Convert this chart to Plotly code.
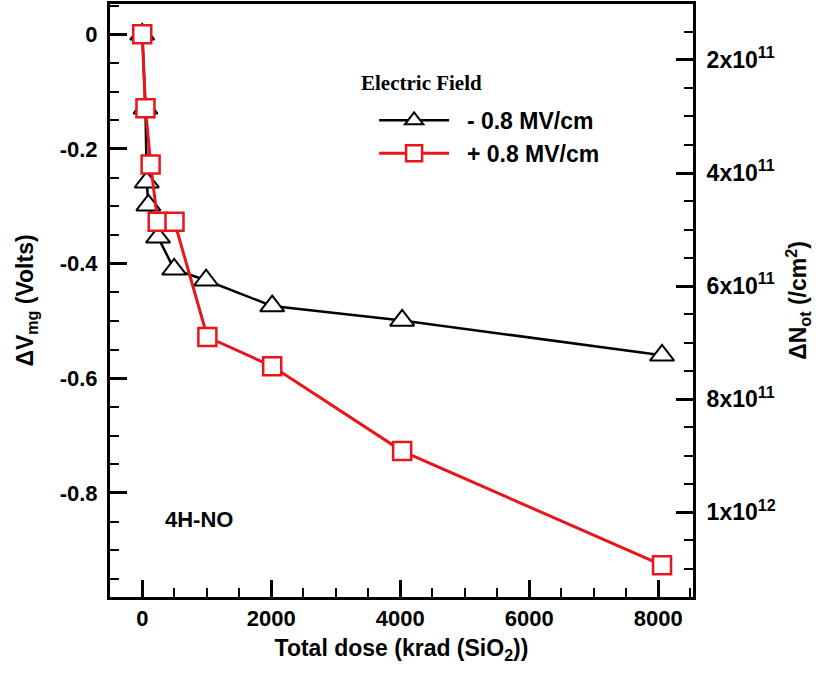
import plotly.graph_objects as go

# Data
dose_neg = [0, 50, 70, 95, 245, 495, 990, 2015, 4030, 8060]
dvmg_neg = [0.0, -0.129, -0.258, -0.298, -0.354, -0.41, -0.429, -0.474, -0.499, -0.56]

dose_pos = [0, 50, 130, 240, 500, 1010, 2015, 4030, 8060]
dvmg_pos = [0.0, -0.129, -0.227, -0.327, -0.327, -0.528, -0.579, -0.727, -0.926]

series_names = ["\u00a0\u00a0<b>- 0.8 MV/cm</b>", "\u00a0\u00a0<b>+ 0.8 MV/cm</b>"]
vmg_tickvals = [0, -0.2, -0.4, -0.6, -0.8]
vmg_ticktext = ["<b>0</b>", "<b>-0.2</b>", "<b>-0.4</b>", "<b>-0.6</b>", "<b>-0.8</b>"]
dose_tickvals = [0, 2000, 4000, 6000, 8000]
dose_ticktext = ["<b>0</b>", "<b>2000</b>", "<b>4000</b>", "<b>6000</b>", "<b>8000</b>"]
not_tickvals = [2e11, 4e11, 6e11, 8e11, 1e12]
not_ticktext = ["<b>2x10<sup>11</sup></b>", "<b>4x10<sup>11</sup></b>", "<b>6x10<sup>11</sup></b>",
                "<b>8x10<sup>11</sup></b>", "<b>1x10<sup>12</sup></b>"]

FONT = "Liberation Sans, Arial, Helvetica, sans-serif"

fig = go.Figure()
fig.add_trace(go.Scatter(
    x=dose_neg, y=dvmg_neg, name=series_names[0], mode="lines+markers",
    line=dict(color="black", width=2.5),
    marker=dict(symbol="triangle-up", size=21, color="white",
                line=dict(color="black", width=2)),
))
fig.add_trace(go.Scatter(
    x=dose_pos, y=dvmg_pos, name=series_names[1], mode="lines+markers",
    line=dict(color="#e8161b", width=3),
    marker=dict(symbol="square", size=18, color="white",
                line=dict(color="#e8161b", width=2.5)),
))
# invisible trace to activate secondary axis
fig.add_trace(go.Scatter(x=[0], y=[5e11], yaxis="y2", mode="markers",
                         marker=dict(opacity=0), showlegend=False, hoverinfo="skip"))

tickfont = dict(family=FONT, size=22, color="black")
tickfont2 = dict(family=FONT, size=23, color="black")
titlefont = dict(family=FONT, size=23, color="black")

fig.update_layout(
    width=831, height=676,
    margin=dict(l=110, r=138, t=4, b=79, autoexpand=False),
    paper_bgcolor="white", plot_bgcolor="white",
    xaxis=dict(
        range=[-500, 8540], tickmode="array", tickvals=dose_tickvals, ticktext=dose_ticktext,
        showline=True, linecolor="black", linewidth=3, mirror=True,
        ticks="inside", ticklen=17, tickwidth=2.5, tickcolor="black",
        minor=dict(tickmode="linear", dtick=500, tick0=0, ticks="inside", ticklen=9,
                   tickwidth=2, tickcolor="black"),
        showgrid=False, zeroline=False, automargin=False,
        tickfont=tickfont,
        title=dict(text="<b>Total dose (krad (SiO<sub>2</sub>))</b>", font=titlefont, standoff=10),
    ),
    yaxis=dict(
        range=[-0.9815, 0.0529], tickmode="array", tickvals=vmg_tickvals, ticktext=vmg_ticktext,
        showline=True, linecolor="black", linewidth=3, mirror=False,
        ticks="inside", ticklen=17, tickwidth=2.5, tickcolor="black",
        minor=dict(tickmode="linear", dtick=0.05, tick0=0, ticks="inside", ticklen=9,
                   tickwidth=2, tickcolor="black"),
        showgrid=False, zeroline=False, automargin=False,
        tickfont=tickfont, ticklabelstandoff=5,
        title=dict(text="<b>ΔV<sub>mg</sub> (Volts)</b>", font=titlefont, standoff=20),
    ),
    yaxis2=dict(
        overlaying="y", side="right",
        range=[1.150e12, 1.01e11],
        tickmode="array", tickvals=not_tickvals, ticktext=not_ticktext,
        showline=True, linecolor="black", linewidth=3,
        ticks="inside", ticklen=17, tickwidth=2.5, tickcolor="black",
        minor=dict(tickmode="linear", dtick=0.5e11, tick0=0, ticks="inside", ticklen=9,
                   tickwidth=2, tickcolor="black"),
        showgrid=False, zeroline=False, automargin=False,
        tickfont=tickfont2, ticklabelstandoff=6,
        title=dict(text="<b>ΔN<sub>ot</sub> (/cm<sup>2</sup>)</b>", font=titlefont, standoff=16),
    ),
    legend=dict(
        x=0.453, y=0.84, xanchor="left", yanchor="top",
        bgcolor="rgba(0,0,0,0)",
        font=dict(family=FONT, size=23, color="black"),
        itemwidth=70, tracegroupgap=2,
    ),
    annotations=[
        dict(text="<b>Electric Field</b>", x=0.535, y=0.867, xref="paper", yref="paper",
             xanchor="center", yanchor="middle", showarrow=False,
             font=dict(family="Liberation Serif, Times New Roman, serif", size=21, color="black")),
        dict(text="<b>4H-NO</b>", x=0.153, y=0.13, xref="paper", yref="paper",
             xanchor="center", yanchor="middle", showarrow=False,
             font=dict(family=FONT, size=22, color="black")),
    ],
    showlegend=True,
)

fig.write_html("out.html", config={"displayModeBar": False},
               post_script="document.body.style.margin='0';")
